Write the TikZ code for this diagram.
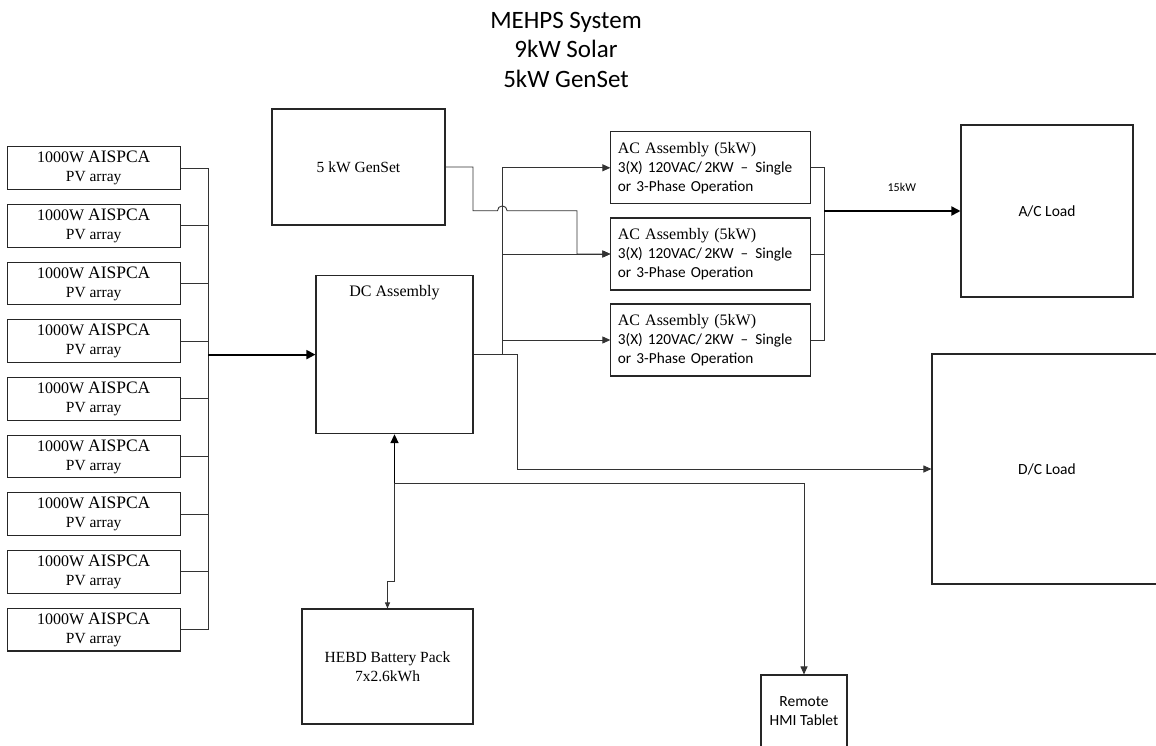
\documentclass[tikz,border=0pt]{standalone}
\usepackage{fontspec}
\setmainfont{Liberation Serif}
\newfontfamily\calfont{Carlito}
\usetikzlibrary{arrows.meta}

\tikzset{
    box/.style={draw=black!85, line width=1.1pt, inner sep=0pt, align=center},
    pvbox/.style={box, minimum width=172.7pt, minimum height=42.7pt, font=\fontsize{16}{19}\selectfont},
    acbox/.style={box, minimum width=200pt, minimum height=72pt, align=left, text width=186pt, font=\calfont\fontsize{15.3}{19}\selectfont},
    wire/.style={draw=black!80, line width=0.9pt},
    feed/.style={wire, -{Triangle[length=8pt,width=7pt]}},
    bigfeed/.style={wire, draw=black, line width=1.8pt, -{Triangle[length=9pt,width=9pt]}},
}

\begin{document}
\begin{tikzpicture}[x=1pt,y=-1pt]
    \useasboundingbox (0,0) rectangle (1156,745);
    % title
    \node[font=\calfont\fontsize{25}{29.5}\selectfont, align=center] (title) at (566,49.5) {MEHPS System\\9kW Solar\\5kW GenSet};

    % PV arrays
    \foreach \i in {1,...,9} {
        \node[pvbox] (pv\i) at (93.7,{168+57.7*(\i-1)}) {1000W {\fontsize{17.5}{19}\selectfont AISPCA}\\{\fontsize{15.5}{19}\selectfont PV array}};
    }

    % generator and DC side
    \node[box, minimum width=173pt, minimum height=116pt, font=\fontsize{15.5}{19}\selectfont] (gen) at (358.5,167) {5 kW GenSet};
    \node[box, minimum width=157pt, minimum height=158pt] (dc) at (394.5,354.6) {};
    \node[font=\fontsize{16}{19}\selectfont] (dclabel) at (394.5,293) {DC Assembly};
    \node[box, minimum width=171pt, minimum height=115pt, font=\fontsize{15.5}{19}\selectfont] (batt) at (387.5,666.5) {HEBD Battery Pack\\7x2.6kWh};
    \node[box, minimum width=86pt, minimum height=73pt, font=\calfont\fontsize{15.5}{19}\selectfont] (hmi) at (804,711.5) {Remote\\HMI Tablet};

    % AC assemblies
    \foreach \i/\y in {1/167.8,2/254,3/340} {
        \node[acbox] (ac\i) at (710.9,\y) {{\rmfamily\fontsize{16}{19}\selectfont AC Assembly (5kW)}\\3(X) 120VAC/\,2KW\hspace{7pt}–\hspace{7pt}Single\\or 3-Phase Operation};
    }

    % loads
    \node[box, minimum width=172pt, minimum height=172pt, font=\calfont\fontsize{15.5}{19}\selectfont] (acload) at (1047,211) {A/C Load};
    \node[box, minimum width=230pt, minimum height=230pt, font=\calfont\fontsize{15.5}{19}\selectfont] (dcload) at (1047,469) {D/C Load};

    % PV bus
    \coordinate (pvbus) at (208.3,354.6);
    \foreach \i in {1,...,9} \draw[wire] (pv\i.east) -| (pvbus);
    \draw[bigfeed] (pvbus) -- (dc.west);

    % DC out to AC assemblies and D/C load
    \coordinate (acbus) at (502.3,354.6);
    \coordinate (dcturn) at (517,354.6);
    \draw[wire] (dc.east) -- (acbus);
    \foreach \i in {1,2,3} \draw[feed] (acbus) |- (ac\i.west);
    \draw[feed] (dc.east) -- (dcturn) |- (dcload.west);

    % genset feed, jumps the bus
    \coordinate (genturn) at (577,210.7);
    \draw[feed] (gen.east) -| (473,210.7) -- (497.5,210.7) arc[start angle=180,end angle=360,radius=4.8] -- (genturn) |- (ac2.west);

    % AC out to A/C load
    \coordinate (loadbus) at (824,211);
    \foreach \i in {1,2,3} \draw[wire] (ac\i.east) -| (loadbus);
    \draw[bigfeed] (loadbus) -- (acload.west) node[pos=0.57, above=15pt, font=\calfont\fontsize{12}{14}\selectfont] (kw) {15kW};

    % battery and HMI
    \coordinate (hmitap) at (394.5,483);
    \draw[wire, draw=black, line width=1.6pt, {Triangle[length=9pt,width=8pt]}-] (dc.south) -- (hmitap);
    \draw[wire, -{Triangle[length=6pt,width=5pt]}] (hmitap) -- ++(0,98) -| (batt.north);
    \draw[feed] (hmitap) -| (hmi.north);
\end{tikzpicture}
\end{document}
